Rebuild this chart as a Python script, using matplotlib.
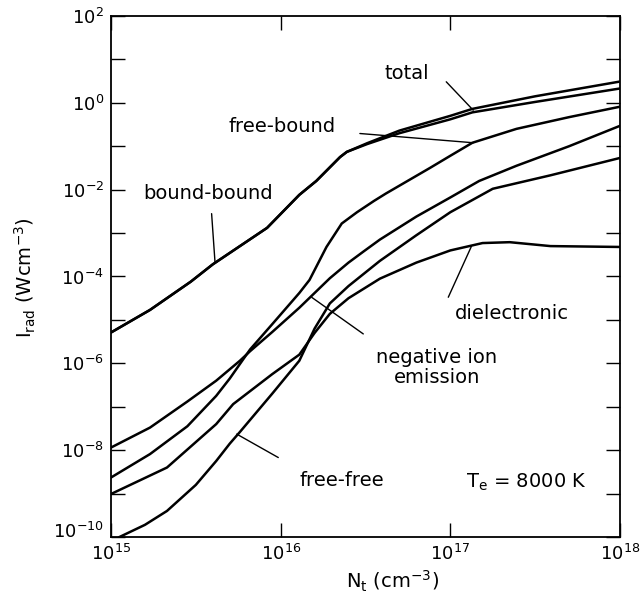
import numpy as np
import matplotlib
matplotlib.use("Agg")
import matplotlib.pyplot as plt
from matplotlib.ticker import FixedLocator, FuncFormatter, NullLocator
from matplotlib.transforms import ScaledTranslation

plt.rcParams['font.family'] = ['DejaVu Sans']
plt.rcParams['mathtext.fontset'] = 'dejavusans'

# values, as log10(N_t) and log10(I_rad)
bb_logn = [15.00, 15.23, 15.47, 15.60, 15.92, 16.11, 16.21, 16.35, 16.39, 16.51, 16.70, 17.00, 17.13, 17.50, 18.00]
bb_logi = [-5.29, -4.77, -4.12, -3.72, -2.88, -2.12, -1.80, -1.25, -1.13, -0.95, -0.70, -0.38, -0.22, 0.02, 0.33]

total_logn = [15.00, 15.23, 15.47, 15.60, 15.92, 16.11, 16.21, 16.35, 16.39, 16.51, 16.70, 17.00, 17.13, 17.50, 18.00]
total_logi = [-5.29, -4.77, -4.12, -3.72, -2.88, -2.12, -1.80, -1.25, -1.13, -0.93, -0.64, -0.30, -0.14, 0.15, 0.49]

fb_logn = [15.00, 15.23, 15.45, 15.62, 15.70, 15.82, 15.95, 16.11, 16.17, 16.27, 16.36, 16.45, 16.55, 16.62, 16.88, 17.00, 17.13, 17.39, 17.70, 18.00]
fb_logi = [-8.63, -8.09, -7.45, -6.75, -6.35, -5.68, -5.10, -4.38, -4.08, -3.32, -2.78, -2.52, -2.26, -2.09, -1.50, -1.22, -0.92, -0.60, -0.33, -0.09]

ni_logn = [15.00, 15.23, 15.45, 15.62, 15.76, 15.82, 15.95, 16.11, 16.20, 16.29, 16.40, 16.49, 16.585, 16.80, 17.00, 17.17, 17.39, 17.70, 18.00]
ni_logi = [-7.94, -7.48, -6.88, -6.40, -5.94, -5.72, -5.28, -4.72, -4.38, -4.04, -3.68, -3.42, -3.15, -2.62, -2.18, -1.80, -1.45, -1.00, -0.53]

ff_logn = [15.05, 15.20, 15.33, 15.50, 15.62, 15.70, 15.76, 15.95, 16.11, 16.20, 16.29, 16.40, 16.585, 16.80, 17.00, 17.25, 17.59, 18.00]
ff_logi = [-10.0, -9.72, -9.40, -8.80, -8.25, -7.85, -7.58, -6.70, -5.94, -5.20, -4.62, -4.22, -3.64, -3.05, -2.52, -1.98, -1.67, -1.27]

diel_logn = [15.00, 15.33, 15.62, 15.72, 15.95, 16.11, 16.20, 16.29, 16.40, 16.585, 16.80, 17.00, 17.19, 17.35, 17.59, 18.00]
diel_logi = [-9.01, -8.40, -7.40, -6.94, -6.25, -5.80, -5.30, -4.86, -4.50, -4.05, -3.68, -3.40, -3.23, -3.21, -3.30, -3.32]

curves = [(bb_logn, bb_logi), (total_logn, total_logi), (fb_logn, fb_logi),
          (ni_logn, ni_logi), (ff_logn, ff_logi), (diel_logn, diel_logi)]

# label text position, leader start, leader end (log10 coords)
labels = [
    ("total", (16.742, 0.673), (16.976, 0.484), (17.135, -0.17)),
    ("free-bound", (16.011, -0.539), (16.467, -0.707), (17.135, -0.92)),
    ("bound-bound", (15.572, -2.085), (15.593, -2.553), (15.613, -3.67)),
    ("dielectronic", (17.363, -4.854), (16.988, -4.478), (17.125, -3.30)),
    ("negative ion\nemission", (16.921, -6.10), (16.487, -5.323), (16.183, -4.48)),
    ("free-free", (16.361, -8.708), (15.986, -8.17), (15.741, -7.63)),
]

fig = plt.figure(figsize=(6.42, 5.96), dpi=100)
ax = fig.add_axes([0.1729, 0.0990, 0.7928, 0.8742])

for logn, logi in curves:
    ax.plot(10 ** np.array(logn), 10 ** np.array(logi), color='black', lw=1.8,
            solid_joinstyle='round')

for text, tpos, p0, p1 in labels:
    ax.annotate('', xy=(10 ** p1[0], 10 ** p1[1]), xytext=(10 ** p0[0], 10 ** p0[1]),
                arrowprops=dict(arrowstyle='-', lw=1.0, color='black', shrinkA=0, shrinkB=0))
    ax.text(10 ** tpos[0], 10 ** tpos[1], text, ha='center', va='center',
            fontsize=14, multialignment='center', linespacing=1.05)

ax.text(10 ** 17.451, 10 ** -8.73, r'T$_{\rm e}$ = 8000 K', ha='center', va='center', fontsize=14)

ax.set_xscale('log')
ax.set_yscale('log')
ax.set_xlim(1e15, 1e18)
ax.set_ylim(1e-10, 1e2)

ax.xaxis.set_major_locator(FixedLocator([1e15, 1e16, 1e17, 1e18]))
ax.yaxis.set_major_locator(FixedLocator([10.0 ** e for e in range(-10, 3)]))
ax.xaxis.set_minor_locator(NullLocator())
ax.yaxis.set_minor_locator(NullLocator())


def xfmt(v, pos):
    return r'$10^{%d}$' % round(np.log10(v))


def yfmt(v, pos):
    e = round(np.log10(v))
    return r'$10^{%d}$' % e if e % 2 == 0 else ''


ax.xaxis.set_major_formatter(FuncFormatter(xfmt))
ax.yaxis.set_major_formatter(FuncFormatter(yfmt))
ax.tick_params(which='major', direction='in', length=10, width=1.0,
               top=True, right=True, labelsize=13)
ax.tick_params(axis='x', pad=5)
ax.tick_params(axis='y', pad=5)

for s in ax.spines.values():
    s.set_linewidth(1.3)

# lift the bottom y label a little so it clears the 10^15 label
fig.canvas.draw()
lowest = ax.yaxis.get_major_ticks()[0].label1
lowest.set_transform(lowest.get_transform() + ScaledTranslation(0, 5 / 72, fig.dpi_scale_trans))

fig.text(0.039, 0.534, r'I$_{\rm rad}$ (Wcm$^{-3}$)', rotation=90, ha='center', va='center', fontsize=14)
fig.text(0.612, 0.024, r'N$_{\rm t}$ (cm$^{-3}$)', ha='center', va='center', fontsize=14)

fig.savefig('out.png', dpi=100)
